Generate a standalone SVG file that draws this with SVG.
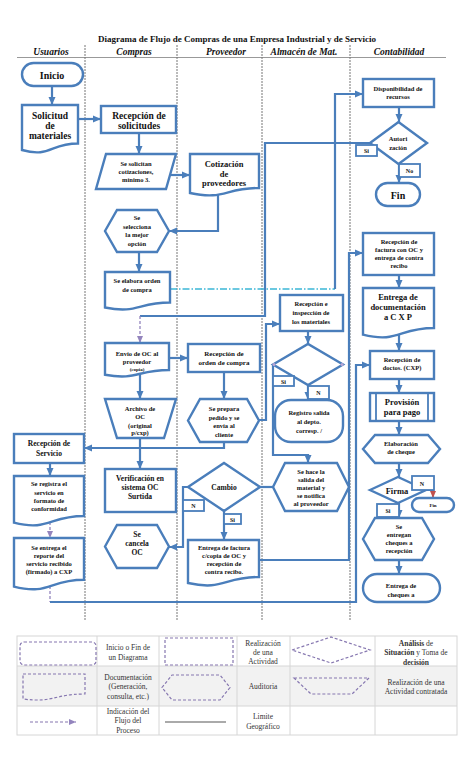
<svg xmlns="http://www.w3.org/2000/svg" width="474" height="780" viewBox="0 0 474 780">
<style>
.s{fill:#fff;stroke:#4a7ebb;stroke-width:2.4}
.lb{fill:#fff;stroke:#4a7ebb;stroke-width:1.8}
.c{fill:none;stroke:#4a7ebb;stroke-width:2.2}
.cd{fill:none;stroke:#9384bd;stroke-width:1.3;stroke-dasharray:3 2}
.cy{fill:none;stroke:#3bb6d6;stroke-width:1.3;stroke-dasharray:7 2 1.5 2}
.lane{stroke:#777;stroke-width:1;stroke-dasharray:2 1}
.t{font-family:"Liberation Serif",serif;font-weight:bold;text-anchor:middle;fill:#111}
.f5{font-size:5px}.f6{font-size:6px}.f65{font-size:6.5px}.f7{font-size:7px}.f75{font-size:7.5px}.f8{font-size:8.5px}.f9{font-size:9.5px}.f10{font-size:10px}
.lg{fill:none;stroke:#8677b0;stroke-width:1.2;stroke-dasharray:3 2}
.lt{font-family:"Liberation Serif",serif;font-size:7.5px;text-anchor:middle;fill:#333}
.tb{fill:none;stroke:#d6d6d6;stroke-width:1}
</style>
<defs>
<marker id="a" markerWidth="8" markerHeight="8" refX="8" refY="4" orient="auto" markerUnits="userSpaceOnUse"><path d="M0,0.5 L8,4 L0,7.5 Z" fill="#4a7ebb"/></marker>
<marker id="ap" markerWidth="7" markerHeight="7" refX="7" refY="3.5" orient="auto" markerUnits="userSpaceOnUse"><path d="M0,0.5 L7,3.5 L0,6.5 Z" fill="#9384bd"/></marker>
<marker id="ar" markerWidth="7" markerHeight="7" refX="7" refY="3.5" orient="auto" markerUnits="userSpaceOnUse"><path d="M0,0.5 L7,3.5 L0,6.5 Z" fill="#c0504d"/></marker>
</defs>
<rect width="474" height="780" fill="#fff"/>

<g id="header">
<text x="237" y="42" class="t" style="font-size:9px">Diagrama de Flujo de Compras de una Empresa Industrial y de Servicio</text>
<g class="t" style="font-size:9.5px;font-style:italic">
<text x="51" y="55">Usuarios</text>
<text x="134" y="55">Compras</text>
<text x="226" y="55">Proveedor</text>
<text x="304" y="55">Almacén de Mat.</text>
<text x="399" y="55">Contabilidad</text>
</g>
<line x1="17" y1="57.5" x2="446" y2="57.5" stroke="#999" stroke-width="1"/>
<line x1="85" y1="45" x2="85" y2="620" class="lane"/>
<line x1="177" y1="45" x2="177" y2="620" class="lane"/>
<line x1="262" y1="45" x2="262" y2="620" class="lane"/>
<line x1="350" y1="45" x2="350" y2="620" class="lane"/>
</g>

<g id="connectors">
<path class="c" d="M52,86 V105" marker-end="url(#a)"/>
<path class="c" d="M78,119 H101" marker-end="url(#a)"/>
<path class="c" d="M139,133 V154" marker-end="url(#a)"/>
<path class="c" d="M170,175 H190" marker-end="url(#a)"/>
<path class="c" d="M218,190 V231 H169" marker-end="url(#a)"/>
<path class="c" d="M139,252 V272" marker-end="url(#a)"/>
<path class="cy" d="M170,289 H335"/>
<path class="c" d="M335,289 V94 H363" marker-end="url(#a)"/>
<path class="c" d="M399,107 V122" marker-end="url(#a)"/>
<path class="c" d="M370,143 H265 V316 H140"/>
<path class="cd" d="M140,316 V343" marker-end="url(#ap)"/>
<path class="c" d="M399,164 V183" marker-end="url(#a)"/>
<path class="c" d="M259,420 H266 V324 H280" marker-end="url(#a)"/>
<path class="c" d="M169,358 H188" marker-end="url(#a)"/>
<path class="c" d="M140,373 V399" marker-end="url(#a)"/>
<path class="c" d="M140,438 V469" marker-end="url(#a)"/>
<path class="c" d="M224,372 V399" marker-end="url(#a)"/>
<path class="c" d="M224,442 V448 H84" marker-end="url(#a)"/>
<path class="c" d="M308,331 V344" marker-end="url(#a)"/>
<path class="c" d="M308,385 V400" marker-end="url(#a)"/>
<path class="c" d="M273,364 V455 H308 V463" marker-end="url(#a)"/>
<path class="c" d="M260,487 H273"/>
<path class="c" d="M224,511 V540" marker-end="url(#a)"/>
<path class="c" d="M188,487 H183 V547 H169" marker-end="url(#a)"/>
<path class="c" d="M259,560 H349 V253 H363" marker-end="url(#a)"/>
<path class="c" d="M50,463 V476" marker-end="url(#a)"/>
<path class="cd" d="M50,522 V538" marker-end="url(#ap)"/>
<path class="cd" d="M50,586 V602"/>
<path class="c" d="M50,602 H356 V365 H370" marker-end="url(#a)"/>
<path class="c" d="M399,275 V288" marker-end="url(#a)"/>
<path class="c" d="M399,334 V351" marker-end="url(#a)"/>
<path class="c" d="M399,379 V393" marker-end="url(#a)"/>
<path class="c" d="M399,421 V435" marker-end="url(#a)"/>
<path class="c" d="M399,463 V477" marker-end="url(#a)"/>
<path class="c" d="M426,490 H433 V491"/>
<path d="M433,490 V498" stroke="#c0504d" stroke-width="1.5" fill="none" marker-end="url(#ar)"/>
<path class="c" d="M399,503 V518" marker-end="url(#a)"/>
<path class="c" d="M399,560 V574" marker-end="url(#a)"/>
</g>

<g id="inicio"><rect class="s" x="22" y="63" width="61" height="23" rx="11.5"/><text class="t f10" x="52" y="79">Inicio</text></g>
<g id="solicitud"><path class="s" d="M22,105 H78 V143.5 C50,143.5 50,158 22,150 Z"/><text class="t f9" x="50" y="119">Solicitud</text><text class="t f9" x="50" y="129">de</text><text class="t f9" x="50" y="139">materiales</text></g>
<g id="recepcion-solicitudes"><rect class="s" x="101" y="106" width="75" height="27"/><text class="t f9" x="139" y="119">Recepción de</text><text class="t f9" x="139" y="129">solicitudes</text></g>
<g id="se-solicitan"><path class="s" d="M106,154 H176 L166,189 H96 Z"/><text class="t f65" x="136" y="165.5">Se solicitan</text><text class="t f65" x="136" y="173.5">cotizaciones,</text><text class="t f65" x="136" y="181.5">mínimo  3.</text></g>
<g id="cotizacion"><path class="s" d="M190,154 H259 V188 C224.5,188 224.5,200.5 190,193 Z"/><text class="t f8" x="224" y="167">Cotización</text><text class="t f8" x="224" y="177">de</text><text class="t f8" x="224" y="186">proveedores</text></g>
<g id="selecciona"><polygon class="s" points="105,231 117,210 157,210 169,231 157,252 117,252"/><text class="t f65" x="137" y="220">Se</text><text class="t f65" x="137" y="228.5">selecciona</text><text class="t f65" x="137" y="237">la mejor</text><text class="t f65" x="137" y="245.5">opción</text></g>
<g id="elabora-orden"><path class="s" d="M105,272 H170 V302.5 C137.5,302.5 137.5,314 105,307.5 Z"/><text class="t f65" x="137" y="283">Se elabora orden</text><text class="t f65" x="137" y="292">de compra</text></g>

<g id="disponibilidad"><rect class="s" x="363" y="79" width="71" height="28"/><text class="t f65" x="398" y="90.5">Disponibilidad de</text><text class="t f65" x="398" y="99">recursos</text></g>
<g id="autorizacion"><polygon class="s" points="370,143 398.5,122 427,143 398.5,164"/><text class="t f65" x="398" y="141">Autori</text><text class="t f65" x="398" y="149.5">zación</text>
<rect class="lb" x="356" y="145" width="21" height="11"/><text class="t f6" x="366.5" y="152.8">Si</text>
<rect class="lb" x="399" y="164" width="21" height="13"/><text class="t f6" x="409.5" y="173">No</text></g>
<g id="fin"><rect class="s" x="376" y="183" width="44" height="23" rx="11.5"/><text class="t f10" x="398" y="198.5">Fin</text></g>
<g id="recepcion-factura"><rect class="s" x="363" y="233" width="71" height="42"/><text class="t f65" x="399" y="243.5">Recepción de</text><text class="t f65" x="399" y="251.5">factura con OC  y</text><text class="t f65" x="399" y="259.5">entrega de contra</text><text class="t f65" x="399" y="268">recibo</text></g>
<g id="entrega-documentacion"><path class="s" d="M363,288 H434 V328 C398.5,328 398.5,343.5 363,334.7 Z"/><text class="t f8" x="398" y="300">Entrega de</text><text class="t f8" x="398" y="310">documentación</text><text class="t f8" x="398" y="320">a C X P</text></g>
<g id="recepcion-doctos"><rect class="s" x="370" y="351" width="64" height="28"/><text class="t f65" x="402" y="361.5">Recepción de</text><text class="t f65" x="402" y="370">doctos. (CXP)</text></g>
<g id="provision"><rect class="s" x="370" y="393" width="64" height="28"/><line x1="376" y1="393" x2="376" y2="421" stroke="#4a7ebb" stroke-width="1.8"/><line x1="428" y1="393" x2="428" y2="421" stroke="#4a7ebb" stroke-width="1.8"/><text class="t f8" x="402" y="405">Provisión</text><text class="t f8" x="402" y="414.5">para pago</text></g>
<g id="elaboracion-cheque"><polygon class="s" points="363,449 375,435 428,435 440,449 428,463 375,463"/><text class="t f65" x="401" y="445.5">Elaboración</text><text class="t f65" x="401" y="454">de cheque</text></g>
<g id="firma"><polygon class="s" points="370,490 398,477 426,490 398,503"/><text class="t f8" x="397" y="493.5">Firma</text>
<rect class="lb" x="412" y="476" width="22" height="14"/><text class="t f6" x="422" y="486">N</text>
<rect class="lb" x="377" y="504" width="22" height="13"/><text class="t f6" x="388" y="513">Si</text></g>
<g id="fin-firma"><rect class="s" x="412" y="498" width="42" height="14" rx="7"/><text class="t f5" x="433" y="507">Fin</text></g>
<g id="entregan-cheques"><polygon class="s" points="363,539 375,518 422,518 434,539 422,560 375,560"/><text class="t f65" x="399" y="529">Se</text><text class="t f65" x="399" y="537">entregan</text><text class="t f65" x="399" y="545">cheques a</text><text class="t f65" x="399" y="553">recepción</text></g>
<g id="entrega-cheques"><rect class="s" x="363" y="574" width="77" height="28" rx="14"/><text class="t f65" x="401" y="588">Entrega de</text><text class="t f65" x="401" y="596.5">cheques a</text></g>

<g id="recepcion-inspeccion"><rect class="s" x="280" y="295" width="63" height="36"/><text class="t f65" x="311" y="306">Recepción e</text><text class="t f65" x="311" y="315">inspección de</text><text class="t f65" x="311" y="324">los materiales</text></g>
<g id="decision-almacen"><polygon class="s" points="273,364.5 308,344 343,364.5 308,385"/><circle cx="274" cy="364.5" r="1.5" fill="#b9a6d6"/><circle cx="342" cy="364.5" r="1.5" fill="#b9a6d6"/>
<rect class="lb" x="273" y="376" width="21" height="10"/><text class="t f6" x="283.5" y="383.5">Si</text>
<rect class="lb" x="308" y="386" width="21" height="13"/><text class="t f6" x="318.5" y="395">N</text></g>
<g id="registro-salida"><rect class="s" x="275" y="400" width="68" height="42" rx="16"/><text class="t f65" x="309" y="415">Registro salida</text><text class="t f65" x="309" y="424">al depto.</text><text class="t f65" x="309" y="432.5">corresp. /</text></g>
<g id="salida-material"><polygon class="s" points="273,487 285,463 337,463 349,487 337,511 285,511"/><text class="t f65" x="311" y="473.5">Se hace la</text><text class="t f65" x="311" y="481.5">salida del</text><text class="t f65" x="311" y="489.5">material  y</text><text class="t f65" x="311" y="497.5">se  notifica</text><text class="t f65" x="311" y="505.5">al proveedor</text></g>

<g id="recepcion-orden"><rect class="s" x="188" y="344" width="72" height="28"/><text class="t f7" x="224" y="356">Recepción de</text><text class="t f7" x="224" y="365">orden de compra</text></g>
<g id="prepara-pedido"><polygon class="s" points="188,420.5 200,399 247,399 259,420.5 247,442 200,442"/><text class="t f65" x="224" y="411">Se prepara</text><text class="t f65" x="224" y="419.5">pedido y se</text><text class="t f65" x="224" y="428">envía al</text><text class="t f65" x="224" y="436.5">cliente</text></g>
<g id="cambio"><polygon class="s" points="188,487 224,463 260,487 224,511"/><text class="t f75" x="224" y="490">Cambio</text>
<rect class="lb" x="183" y="500" width="21" height="11"/><text class="t f6" x="193.5" y="508">N</text>
<rect class="lb" x="224" y="514" width="17" height="10"/><text class="t f6" x="232.5" y="521.5">Si</text></g>
<g id="entrega-factura"><path class="s" d="M188,540 H259 V577 C223.5,577 223.5,591 188,583 Z"/><text class="t f65" x="224" y="550">Entrega de factura</text><text class="t f65" x="224" y="558">c/copia de OC y</text><text class="t f65" x="224" y="566">recepción de</text><text class="t f65" x="224" y="574">contra recibo.</text></g>

<g id="envio-oc"><path class="s" d="M105,343 H169 V370 C137,370 137,380.5 105,374.8 Z"/><text class="t f65" x="137" y="355.5">Envío de OC  al</text><text class="t f65" x="137" y="363.5">proveedor</text><text class="t f5" x="137" y="370.5">(copia)</text></g>
<g id="archivo-oc"><polygon class="s" points="105,399 176,399 164,438 117,438"/><text class="t f65" x="140" y="410.5">Archivo de</text><text class="t f65" x="140" y="419">OC</text><text class="t f65" x="140" y="427.5">(original</text><text class="t f65" x="140" y="435">p/cxp)</text></g>
<g id="verificacion"><rect class="s" x="105" y="469" width="71" height="43"/><text class="t f75" x="140" y="481">Verificación en</text><text class="t f75" x="140" y="490">sistema OC</text><text class="t f75" x="140" y="499">Surtida</text></g>
<g id="cancela-oc"><polygon class="s" points="105,546.5 117,525 157,525 169,546.5 157,568 117,568"/><text class="t f75" x="137" y="537">Se</text><text class="t f75" x="137" y="546">cancela</text><text class="t f75" x="137" y="555">OC</text></g>

<g id="recepcion-servicio"><rect class="s" x="14" y="434" width="70" height="29"/><text class="t f75" x="49" y="446">Recepción de</text><text class="t f75" x="49" y="456">Servicio</text></g>
<g id="registra-servicio"><path class="s" d="M14,476 H84 V516 C49,516 49,531.5 14,522.7 Z"/><text class="t f65" x="49" y="486">Se registra el</text><text class="t f65" x="49" y="494.5">servicio en</text><text class="t f65" x="49" y="503">formato de</text><text class="t f65" x="49" y="511">conformidad</text></g>
<g id="entrega-reporte"><path class="s" d="M14,538 H84 V579.7 C49,579.7 49,595.5 14,586.6 Z"/><text class="t f65" x="49" y="550">Se entrega el</text><text class="t f65" x="49" y="558">reporte del</text><text class="t f65" x="49" y="566">servicio recibido</text><text class="t f65" x="49" y="574">(firmado) a CXP</text></g>

<g id="legend">
<rect x="17" y="666" width="440" height="40" fill="#f2f2f2"/>
<rect class="tb" x="17" y="636" width="440" height="99"/>
<line class="tb" x1="17" y1="666" x2="457" y2="666"/>
<line class="tb" x1="17" y1="706" x2="457" y2="706"/>
<line class="tb" x1="97" y1="636" x2="97" y2="735"/>
<line class="tb" x1="159" y1="636" x2="159" y2="735"/>
<line class="tb" x1="237" y1="636" x2="237" y2="735"/>
<line class="tb" x1="290" y1="636" x2="290" y2="735"/>
<line class="tb" x1="375" y1="636" x2="375" y2="735"/>
<rect class="lg" x="20" y="642" width="76" height="23" rx="4"/>
<rect class="lg" x="165" y="638" width="68" height="27"/>
<polygon class="lg" points="292,650 331,637 370,650 331,663"/>
<path class="lg" d="M23,674 H85 V694 C54,694 54,703 23,699 Z"/>
<polygon class="lg" points="162,687.5 172,675 220,675 230,687.5 220,700 172,700"/>
<polygon class="lg" points="294,678 369,678 352,694 311,694"/>
<path class="lg" d="M30,722 H76" marker-end="url(#ap)"/>
<line x1="165" y1="722" x2="226" y2="722" stroke="#aaa" stroke-width="2"/>
<text class="lt" x="128" y="650">Inicio o Fin de</text><text class="lt" x="128" y="660">un Diagrama</text>
<text class="lt" x="128" y="680">Documentación</text><text class="lt" x="128" y="689">(Generación,</text><text class="lt" x="128" y="699">consulta, etc.)</text>
<text class="lt" x="128" y="714">Indicación del</text><text class="lt" x="128" y="723">Flujo del</text><text class="lt" x="128" y="733">Proceso</text>
<text class="lt" x="263" y="646">Realización</text><text class="lt" x="263" y="655">de una</text><text class="lt" x="263" y="664">Actividad</text>
<text class="lt" x="263" y="689">Auditoria</text>
<text class="lt" x="263" y="719">Limite</text><text class="lt" x="263" y="729">Geográfico</text>
<text class="lt" x="416" y="646"><tspan font-weight="bold">Análisis</tspan> de</text>
<text class="lt" x="416" y="655"><tspan font-weight="bold">Situación</tspan> y Toma de</text>
<text class="lt" x="416" y="665" font-weight="bold">decisión</text>
<text class="lt" x="416" y="685">Realización de una</text><text class="lt" x="416" y="694">Actividad contratada</text>
</g>
</svg>
